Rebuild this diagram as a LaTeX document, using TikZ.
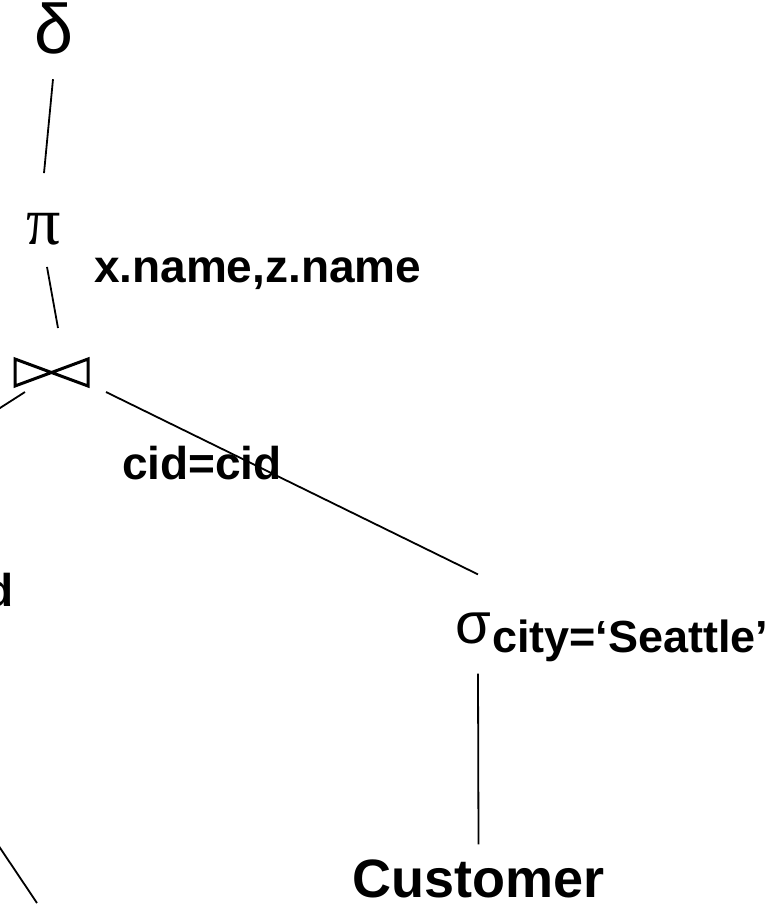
\documentclass[tikz,border=0pt]{standalone}
\usepackage{fontspec}
\setmainfont{Liberation Sans}
\newfontfamily\serifgreek{Liberation Serif}
\usetikzlibrary{calc}
\begin{document}
\begin{tikzpicture}[x=1pt,y=-1pt,
  op/.style={inner sep=0pt,outer sep=0pt},
  cond/.style={inner sep=0pt,outer sep=0pt,font=\fontsize{46}{50}\selectfont\bfseries},
  rel/.style={inner sep=0pt,outer sep=0pt,font=\fontsize{54}{60}\selectfont\bfseries},
  edge/.style={line width=1.8pt},
  joinmark/.style={line width=3pt,line join=miter}]
\useasboundingbox (0,0) rectangle (783,914);
\clip (0,0) rectangle (783,914);

% operators
\node[op,font=\fontsize{70}{76}\selectfont] (dup) at (53.5,28.5) {δ};
\node[op,font=\fontsize{68}{74}\selectfont\serifgreek] (proj) at (43.5,229) {π};
\node[cond,anchor=base west] (projattr) at (94,282) {x.name,z.name};

% natural join symbol
\node[op,minimum width=73pt,minimum height=27pt] (join) at (51.5,372.5) {};
\draw[joinmark] (join.north west) -- (join.south east) -- (join.north east)
  -- (join.south west) -- cycle;
\node[cond,anchor=base west] (joincond) at (122,479) {cid=cid};

\node[op,font=\fontsize{58}{64}\selectfont] (sel) at (473,628) {σ};
\node[cond,font=\fontsize{45}{50}\selectfont\bfseries,anchor=base west] (selcond) at (492,652) {city=‘Seattle’};

\node[rel,anchor=base] (cust) at (478.5,897) {Customer};

% left subtree, partly outside the frame
\node[cond,anchor=base east] (leftcond) at (14,606) {d};
\coordinate (leftkid) at (-25,424);
\coordinate (leafA) at (-20,818);
\coordinate (leafB) at (37,903);

% edges
\draw[edge] ($(dup.south)+(-0.5,25)$) -- ($(proj.north)+(0.5,-40)$);
\draw[edge] ($(proj.south)+(3.5,22)$) -- ($(join.north)+(6.5,-31)$);
\draw[edge] ($(join.south west)+(10,6)$) -- (leftkid);
\draw[edge] ($(join.south east)+(18,6)$) -- ($(sel.north)+(5,-38)$);
\draw[edge] ($(sel.south)+(5,30)$) -- ($(cust.north)+(0,-15)$);
\draw[edge] (leafA) -- (leafB);
\end{tikzpicture}
\end{document}
